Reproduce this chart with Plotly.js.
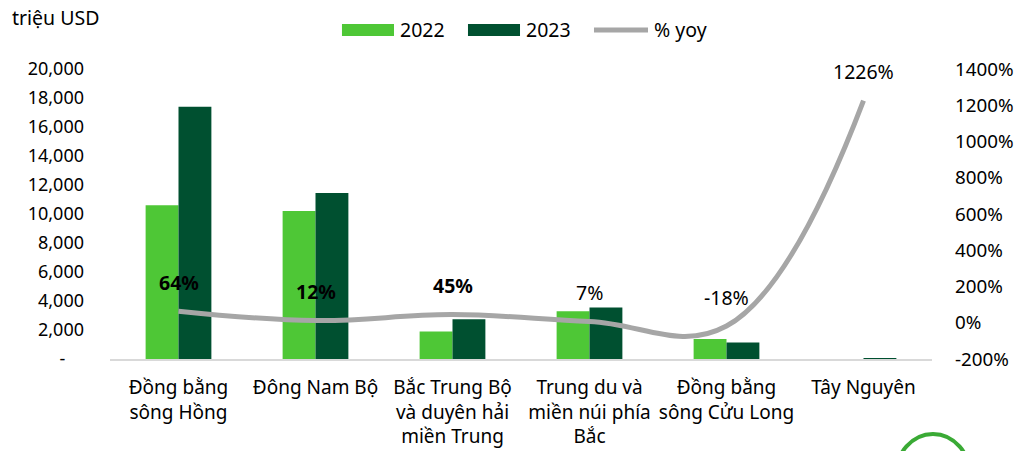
<!DOCTYPE html>
<html>
<head>
<meta charset="utf-8">
<script src="https://cdn.plot.ly/plotly-3.0.1.min.js"></script>
<style>html,body{margin:0;padding:0;background:#fff;}#chart{width:1021px;height:451px;}</style>
</head>
<body>
<div id="chart"></div>
<script>
const categories = ["Đồng bằng<br>sông Hồng", "Đông Nam Bộ", "Bắc Trung Bộ<br>và duyên hải<br>miền Trung", "Trung du và<br>miền núi phía<br>Bắc", "Đồng bằng<br>sông Cửu Long", "Tây Nguyên"];
const values2022 = [10600, 10200, 1900, 3300, 1380, 5];
const values2023 = [17400, 11450, 2750, 3550, 1130, 66];
const yoy = [64, 12, 45, 7, -18, 1226];
const yoyLabels = ["<b>64%</b>", "<b>12%</b>", "<b>45%</b>", "7%", "-18%", "1226%"];
const seriesNames = ["2022", "2023", "% yoy"];
const leftTickVals = [0, 2000, 4000, 6000, 8000, 10000, 12000, 14000, 16000, 18000, 20000];
const leftTickText = ["-\u00A0\u00A0\u00A0\u00A0", "2,000", "4,000", "6,000", "8,000", "10,000", "12,000", "14,000", "16,000", "18,000", "20,000"];
const rightTickVals = [-200, 0, 200, 400, 600, 800, 1000, 1200, 1400];
const rightTickText = ["-200%", "0%", "200%", "400%", "600%", "800%", "1000%", "1200%", "1400%"];

const font = "'Noto Sans', 'Open Sans', sans-serif";
const c2022 = "#4EC736", c2023 = "#005030", cLine = "#A6A6A6";

const traces = [
  {type: "bar", name: seriesNames[0], x: categories, y: values2022, marker: {color: c2022}, yaxis: "y"},
  {type: "bar", name: seriesNames[1], x: categories, y: values2023, marker: {color: c2023}, yaxis: "y"},
  {type: "scatter", mode: "lines", name: seriesNames[2], x: categories, y: yoy, yaxis: "y2",
   line: {color: cLine, width: 5, shape: "spline", smoothing: 1.15}}
];

const annotations = categories.map((c, i) => ({
  x: c, y: yoy[i], xref: "x", yref: "y2", text: yoyLabels[i], showarrow: false,
  yshift: 29, font: {family: font, size: 19.5, color: "#000"}
}));
annotations.push({
  xref: "paper", yref: "paper", x: -0.1217, y: 1.176, xanchor: "left", yanchor: "middle",
  text: "triệu USD", showarrow: false, font: {family: font, size: 19.5, color: "#000"}
});
// custom legend
const legX = [[0.2822, 0.3455, 0.3504], [0.4355, 0.4988, 0.5036], [0.5888, 0.6545, 0.6594]];
seriesNames.forEach((n, i) => {
  annotations.push({xref: "paper", yref: "paper", x: legX[i][2], y: 1.1345, xanchor: "left", yanchor: "middle",
    text: n, showarrow: false, font: {family: font, size: 19.5, color: "#000"}});
});

const shapes = [
  {type: "rect", xref: "paper", yref: "paper", x0: legX[0][0], x1: legX[0][1], y0: 1.1138, y1: 1.1552, fillcolor: c2022, line: {width: 0}},
  {type: "rect", xref: "paper", yref: "paper", x0: legX[1][0], x1: legX[1][1], y0: 1.1138, y1: 1.1552, fillcolor: c2023, line: {width: 0}},
  {type: "line", xref: "paper", yref: "paper", x0: legX[2][0], x1: legX[2][1], y0: 1.1345, y1: 1.1345, line: {color: cLine, width: 5}},
  {type: "circle", xref: "paper", yref: "paper", x0: 0.9556, x1: 1.0468, y0: -0.2586, y1: -0.5517,
   line: {color: "#3AAA35", width: 4}}
];

const layout = {
  width: 1021, height: 451,
  margin: {l: 110, r: 89, t: 69, b: 92, autoexpand: false},
  paper_bgcolor: "#fff", plot_bgcolor: "#fff",
  font: {family: font, size: 19, color: "#000"},
  barmode: "group", bargap: 0.52, bargroupgap: 0,
  showlegend: false,
  xaxis: {showgrid: false, zeroline: false, showline: true, linecolor: "#D9D9D9", linewidth: 2,
          ticks: "", ticklabelstandoff: 10, tickfont: {family: font, size: 19}, fixedrange: true, automargin: false},
  yaxis: {range: [0, 20000], tickvals: leftTickVals, ticktext: leftTickText, showgrid: false, automargin: false,
          zeroline: false, showline: false, ticks: "", ticklabelstandoff: 25, tickfont: {family: font, size: 18}},
  yaxis2: {range: [-200, 1400], overlaying: "y", side: "right", tickvals: rightTickVals, ticktext: rightTickText, automargin: false,
           showgrid: false, zeroline: false, showline: false, ticks: "", ticklabelstandoff: 22, tickfont: {family: font, size: 18.8}},
  annotations: annotations,
  shapes: shapes
};

Plotly.newPlot("chart", traces, layout, {displayModeBar: false, staticPlot: true});
</script>
</body>
</html>
